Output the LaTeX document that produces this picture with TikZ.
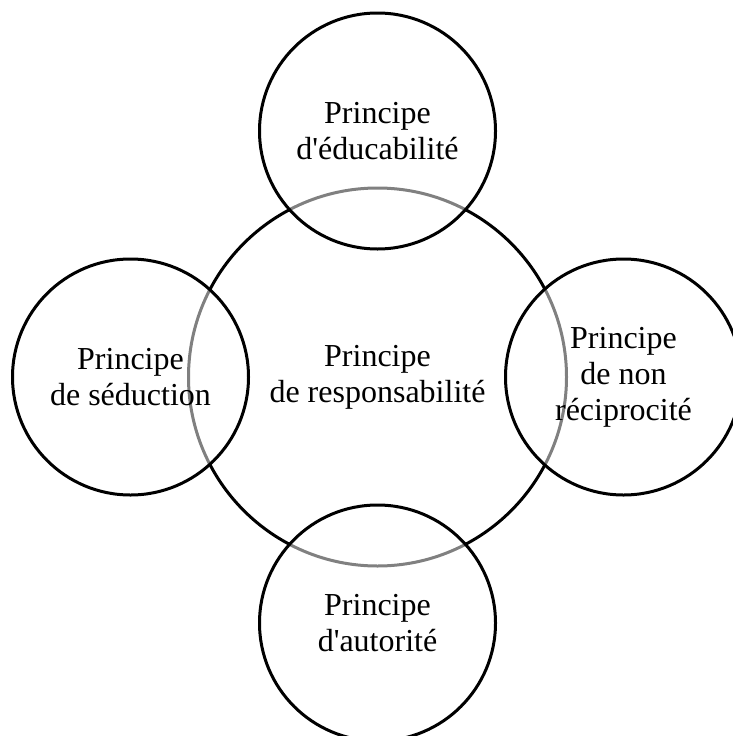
\documentclass[tikz,border=0pt]{standalone}
\usepackage{fontspec}
\setmainfont[Ligatures=NoCommon]{Liberation Serif}
\begin{document}
\begin{tikzpicture}[x=1pt,y=-1pt,
  ring/.style={circle, draw=black, line width=3pt, inner sep=0pt, align=center,
    font=\fontsize{32}{36}\selectfont},
  bigring/.style={ring, minimum size=378pt},
  smallring/.style={ring, minimum size=236pt, fill=white, fill opacity=0.5, text opacity=1}]
\useasboundingbox (0,0) rectangle (733,736);
\node[bigring] (resp) at (377.5,377) {Principe\\de responsabilité};
\node[smallring] (edu) at (377.5,131) {Principe\\d\textquotesingle éducabilité};
\node[smallring] (sed) at (130.5,377) {Principe\\de séduction};
\node[smallring] (nonrec) at (623.5,377) {Principe\\de non\\réciprocité};
\node[smallring] (aut) at (377.5,623) {Principe\\d\textquotesingle autorité};
\end{tikzpicture}
\end{document}
